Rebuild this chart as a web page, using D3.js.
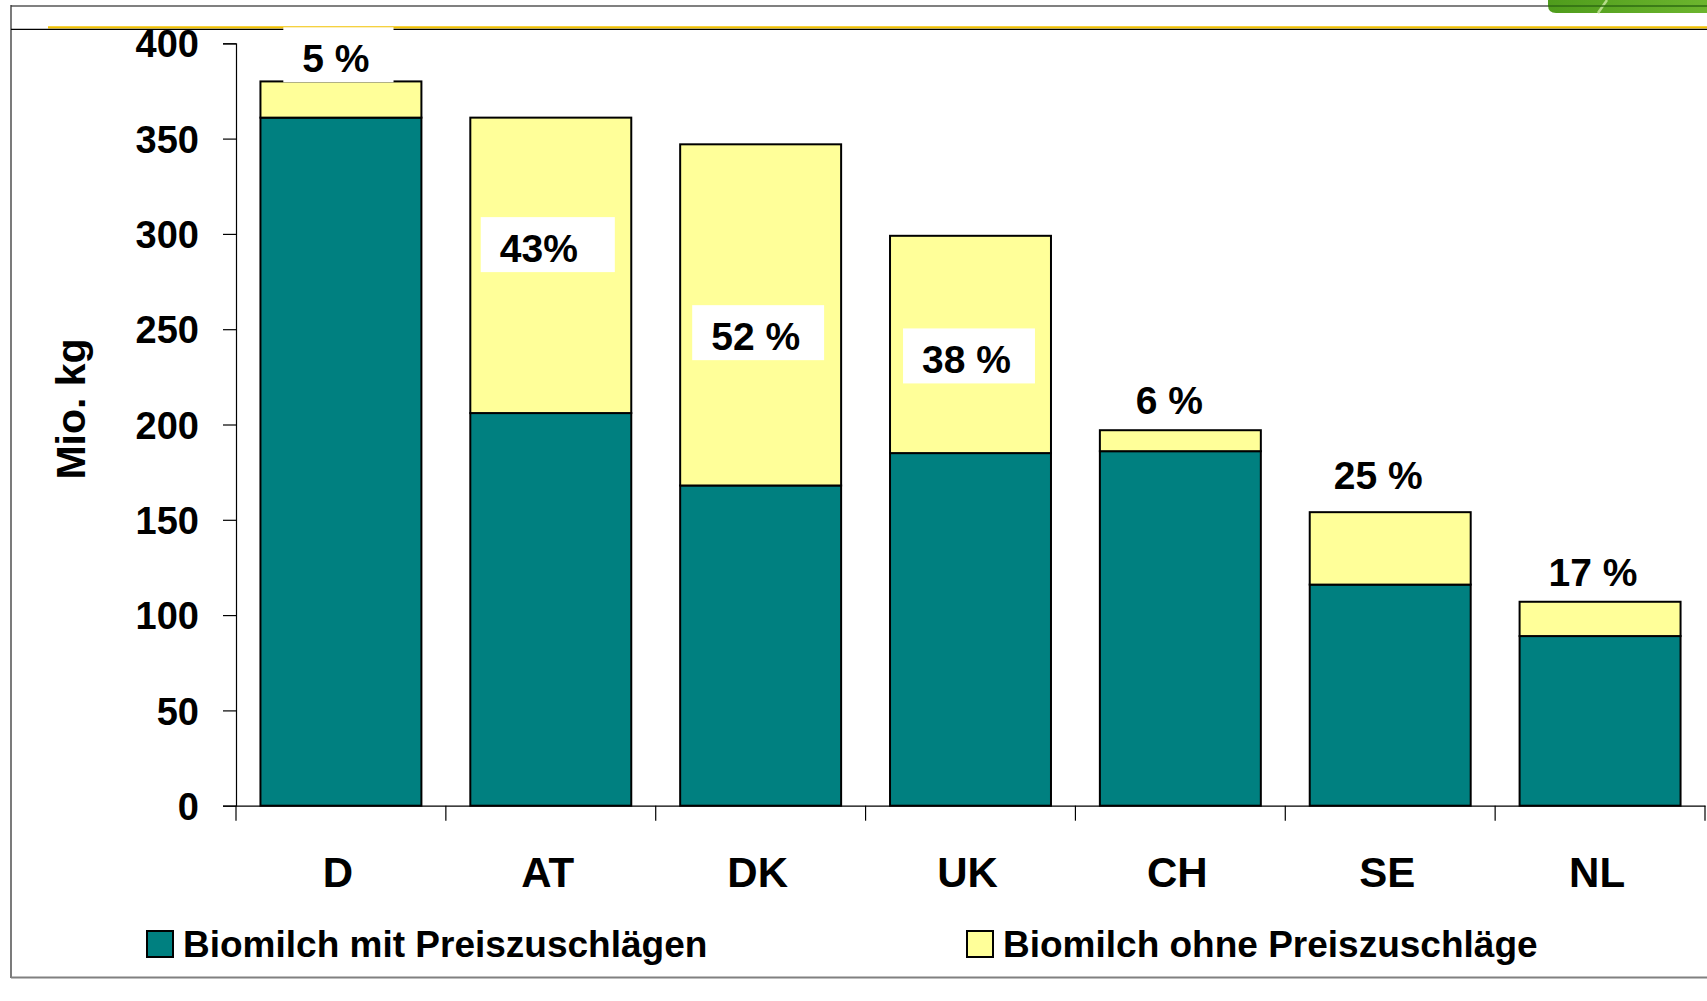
<!DOCTYPE html>
<html>
<head>
<meta charset="utf-8">
<script src="https://cdn.jsdelivr.net/npm/d3@7"></script>
<style>
  html, body { margin: 0; padding: 0; background: #fff; }
  svg { display: block; }
  text { font-family: "Liberation Sans", Arial, sans-serif; font-weight: bold; fill: #000; }
</style>
</head>
<body>
<svg id="chart" width="1707" height="1001"></svg>
<script>
// ---- data ----
const categories = ["D", "AT", "DK", "UK", "CH", "SE", "NL"];
const mitPreiszuschlag = [361, 206, 168, 185, 186, 116, 89];
const ohnePreiszuschlag = [19, 155, 179, 114, 11, 38, 18];
const shareLabels = ["5 %", "43%", "52 %", "38 %", "6 %", "25 %", "17 %"];
const shareLabelAt = [384.8, 285.2, 239.0, 226.8, 205.7, 166.1, 115.2]; // label baseline, in Mio. kg
const yTicks = [0, 50, 100, 150, 200, 250, 300, 350, 400];
const seriesNames = ["Biomilch mit Preiszuschlägen", "Biomilch ohne Preiszuschläge"];
const axisTitle = "Mio. kg";

// ---- layout / style ----
const W = 1707, H = 1001;
const plot = { left: 236, right: 1705, top: 43.3, bottom: 805.7 };
const colors = ["#008080", "#FFFF99"];
const labelDx = [-5, -12, -5, -4, -11, -12, -7];
const boxPadRight = [24, 37, 24, 24, 24, 24, 24];

const svg = d3.select("#chart");

// ---- frame decoration ----
const grad = svg.append("defs").append("linearGradient")
  .attr("id", "grn").attr("x1", 0).attr("y1", 0).attr("x2", 1).attr("y2", 0);
grad.append("stop").attr("offset", 0).attr("stop-color", "#4f9c1c");
grad.append("stop").attr("offset", 1).attr("stop-color", "#6cb52e");
svg.append("path")
  .attr("d", "M1548,0 H1707 V13 H1556 Q1548,13 1548,5 Z")
  .attr("fill", "url(#grn)");
svg.append("line").attr("x1", 1598).attr("y1", 13).attr("x2", 1607).attr("y2", 0)
  .attr("stroke", "#b6dc8a").attr("stroke-width", 2.5);
svg.append("line").attr("x1", 11).attr("y1", 6).attr("x2", 1548).attr("y2", 6)
  .attr("stroke", "#808080").attr("stroke-width", 2);
svg.append("line").attr("x1", 1548).attr("y1", 6).attr("x2", 1707).attr("y2", 6)
  .attr("stroke", "#2e6b12").attr("stroke-width", 1.5);
svg.append("line").attr("x1", 11).attr("y1", 5).attr("x2", 11).attr("y2", 978)
  .attr("stroke", "#333").attr("stroke-width", 1.3);
svg.append("line").attr("x1", 48).attr("y1", 27.4).attr("x2", 1707).attr("y2", 27.4)
  .attr("stroke", "#F2C200").attr("stroke-width", 2.4);
svg.append("line").attr("x1", 11).attr("y1", 29.3).attr("x2", 1707).attr("y2", 29.3)
  .attr("stroke", "#000").attr("stroke-width", 1.3);
svg.append("line").attr("x1", 11).attr("y1", 977.6).attr("x2", 1707).attr("y2", 977.6)
  .attr("stroke", "#808080").attr("stroke-width", 2);

// ---- scales ----
const x = d3.scaleBand().domain(categories).range([plot.left, plot.right])
  .paddingInner(0.233).paddingOuter(0.1165);
const y = d3.scaleLinear().domain([0, 400]).range([plot.bottom, plot.top]);

// ---- bars ----
const rows = categories.map((c, i) => ({ c, a: mitPreiszuschlag[i], b: ohnePreiszuschlag[i] }));
const stack = d3.stack().keys(["a", "b"])(rows);
svg.append("g").selectAll("g").data(stack).join("g")
  .attr("fill", (d, i) => colors[i])
  .selectAll("rect").data(d => d).join("rect")
  .attr("x", d => x(d.data.c))
  .attr("width", x.bandwidth())
  .attr("y", d => y(d[1]))
  .attr("height", d => y(d[0]) - y(d[1]))
  .attr("stroke", "#000").attr("stroke-width", 2);

// ---- y axis ----
const yAxis = svg.append("g").attr("transform", `translate(${plot.left},0)`)
  .call(d3.axisLeft(y).tickValues(yTicks).tickSize(13).tickPadding(24).tickFormat(d3.format("d")));
yAxis.select(".domain").attr("stroke", "#000").attr("stroke-width", 1.2);
yAxis.selectAll(".tick line").attr("stroke", "#000").attr("stroke-width", 1.2);
yAxis.selectAll(".tick text").style("font-size", "38px").attr("dy", "0.36em")
  .style("font-family", '"Liberation Sans", Arial, sans-serif').style("font-weight", "bold");

// ---- x axis ----
const xAxis = svg.append("g").attr("transform", `translate(0,${plot.bottom})`)
  .call(d3.axisBottom(x).tickSize(0).tickPadding(51).tickSizeOuter(0));
xAxis.select(".domain").attr("stroke", "#000").attr("stroke-width", 1.2);
xAxis.selectAll(".tick text").style("font-size", "42px").attr("dx", -3)
  .style("font-family", '"Liberation Sans", Arial, sans-serif').style("font-weight", "bold");
const boundaries = d3.range(categories.length + 1).map(i => plot.left + i * x.step());
xAxis.selectAll("line.sep").data(boundaries).join("line").attr("class", "sep")
  .attr("x1", d => d).attr("x2", d => d).attr("y1", 0).attr("y2", 15)
  .attr("stroke", "#000").attr("stroke-width", 1.2);

// ---- axis title ----
svg.append("text")
  .attr("transform", `translate(85,409) rotate(-90)`)
  .attr("text-anchor", "middle")
  .style("font-size", "41px")
  .text(axisTitle);

// ---- share labels (white boxed) ----
const lab = svg.append("g");
categories.forEach((c, i) => {
  const g = lab.append("g");
  const t = g.append("text")
    .attr("x", x(c) + x.bandwidth() / 2 + labelDx[i])
    .attr("y", y(shareLabelAt[i]))
    .attr("text-anchor", "middle")
    .style("font-size", "39px")
    .text(shareLabels[i]);
  const bb = t.node().getBBox();
  g.insert("rect", "text")
    .attr("x", bb.x - 19).attr("width", bb.width + 19 + boxPadRight[i])
    .attr("y", y(shareLabelAt[i]) - 45).attr("height", 55)
    .attr("fill", "#fff");
});

// ---- legend ----
const legendX = [147, 967];
const leg = svg.append("g");
seriesNames.forEach((n, i) => {
  leg.append("rect").attr("x", legendX[i]).attr("y", 931).attr("width", 26).attr("height", 26)
    .attr("fill", colors[i]).attr("stroke", "#000").attr("stroke-width", 2);
  leg.append("text").attr("x", legendX[i] + 36).attr("y", 957)
    .style("font-size", "37px").text(n);
});
</script>
</body>
</html>
